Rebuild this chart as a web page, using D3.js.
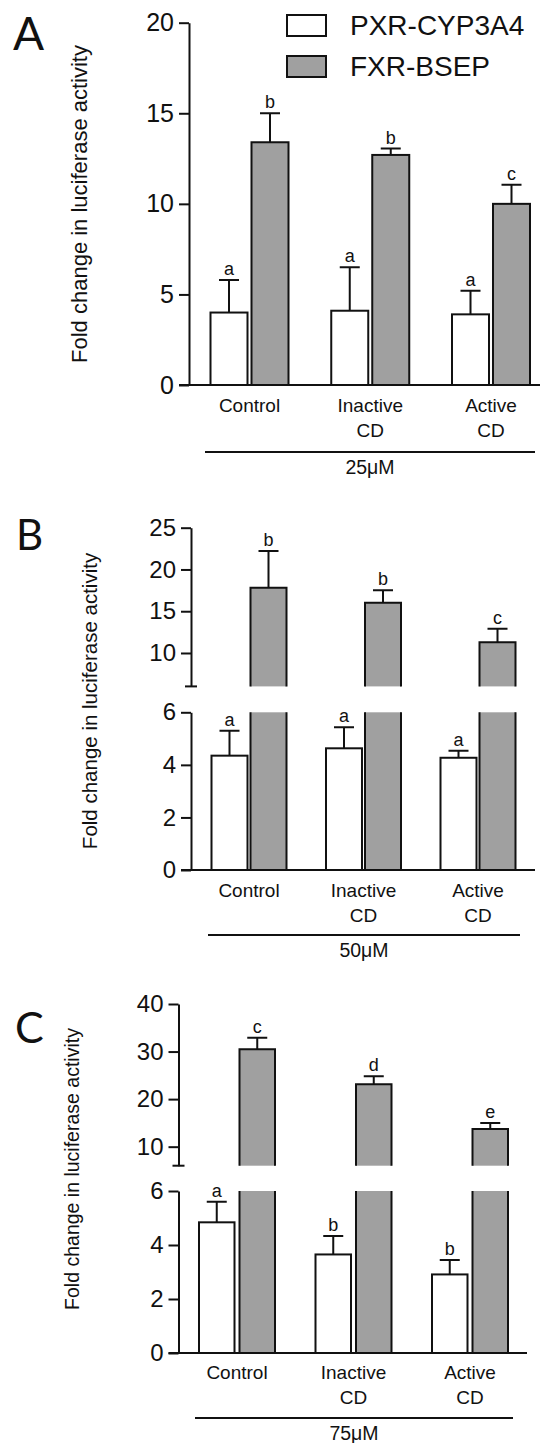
<!DOCTYPE html>
<html>
<head>
<meta charset="utf-8">
<script src="https://cdn.jsdelivr.net/npm/d3@7"></script>
<style>
  body { margin: 0; background: #fff; }
  svg { display: block; }
  text { font-family: "Liberation Sans", Arial, sans-serif; fill: #111; }
</style>
</head>
<body>
<svg id="chart" width="548" height="1443"></svg>
<script>
const groups = ['Control', 'Inactive CD', 'Active CD']
const groupLines = [['Control'], ['Inactive', 'CD'], ['Active', 'CD']]
const series = ['PXR-CYP3A4', 'FXR-BSEP']
const panelNames = ['A', 'B', 'C']
const doses = ['25μM', '50μM', '75μM']
const yTitle = 'Fold change in luciferase activity'

// A - 25 uM
const pxrA = [4.0, 4.1, 3.9]
const pxrErrA = [1.8, 2.4, 1.3]
const fxrA = [13.4, 12.7, 10.0]
const fxrErrA = [1.6, 0.35, 1.05]
const pxrLetA = ['a', 'a', 'a']
const fxrLetA = ['b', 'b', 'c']
const ticksA = [0, 5, 10, 15, 20]

// B - 50 uM, broken axis
const pxrB = [4.35, 4.63, 4.27]
const pxrErrB = [0.95, 0.8, 0.27]
const fxrB = [17.8, 16.0, 11.3]
const fxrErrB = [4.4, 1.5, 1.6]
const pxrLetB = ['a', 'a', 'a']
const fxrLetB = ['b', 'b', 'c']
const lowTicksB = [0, 2, 4, 6]
const highTicksB = [10, 15, 20, 25]

// C - 75 uM, broken axis
const pxrC = [4.84, 3.65, 2.91]
const pxrErrC = [0.76, 0.68, 0.53]
const fxrC = [30.5, 23.1, 13.7]
const fxrErrC = [2.4, 1.7, 1.3]
const pxrLetC = ['a', 'b', 'b']
const fxrLetC = ['c', 'd', 'e']
const lowTicksC = [0, 2, 4, 6]
const highTicksC = [10, 20, 30, 40]

const ink = '#111'
const capW = 20

const svg = d3.select('#chart')

const panels = [
  {
    pxr: pxrA, pxrErr: pxrErrA, fxr: fxrA, fxrErr: fxrErrA, pxrLet: pxrLetA, fxrLet: fxrLetA,
    lowDomain: [0, 20], lowTicks: ticksA, lowRange: [385, 22.7],
    axisX: 189, xEnd: 540, first: 249.5, step: 120.75, barW: 37, gap: 4, tickFont: 25,
    title: { x: 87, y: 204, size: 22 }, label: { x: 13, y: 50, size: 46 },
    catY: 412, lineY: 452, lineX: [205, 535], doseY: 474
  },
  {
    pxr: pxrB, pxrErr: pxrErrB, fxr: fxrB, fxrErr: fxrErrB, pxrLet: pxrLetB, fxrLet: fxrLetB,
    lowDomain: [0, 6], lowTicks: lowTicksB, lowRange: [870, 712.3],
    highDomain: [6, 25], highTicks: highTicksB, highRange: [686.4, 527.7],
    axisX: 191, xEnd: 535, first: 249, step: 114.5, barW: 36, gap: 3, tickFont: 24,
    title: { x: 96.5, y: 701, size: 20.5 }, label: { x: 16, y: 550, size: 42 },
    catY: 897, lineY: 935, lineX: [208, 520], doseY: 957
  },
  {
    pxr: pxrC, pxrErr: pxrErrC, fxr: fxrC, fxrErr: fxrErrC, pxrLet: pxrLetC, fxrLet: fxrLetC,
    lowDomain: [0, 6], lowTicks: lowTicksC, lowRange: [1353, 1191],
    highDomain: [6, 40], highTicks: highTicksC, highRange: [1165.7, 1004],
    axisX: 178.5, xEnd: 527, first: 237, step: 116.5, barW: 35.5, gap: 5, tickFont: 24,
    title: { x: 79, y: 1169, size: 19.5 }, label: { x: 15, y: 1043, size: 43 },
    catY: 1379, lineY: 1418, lineX: [195, 513], doseY: 1440
  }
]

const fill = d3.scaleOrdinal().domain(series).range(['#ffffff', '#a0a0a0'])

function styleAxis (g, size) {
  g.attr('font-size', null).attr('font-family', null)
  g.select('.domain').attr('stroke', ink).attr('stroke-width', 2)
  g.selectAll('.tick line').attr('stroke', ink).attr('stroke-width', 2)
  g.selectAll('.tick text').attr('fill', ink).style('font-size', size + 'px')
}

function drawPanel (p, idx) {
  const g = svg.append('g')
  const x = d3.scalePoint().domain(groups).range([p.first, p.first + 2 * p.step])
  const half = p.barW + p.gap / 2
  const xs = d3.scaleBand().domain(series).range([-half, half])
    .paddingInner(p.gap / (p.barW + p.gap))
  const yLow = d3.scaleLinear().domain(p.lowDomain).range(p.lowRange)
  const yHigh = p.highDomain ? d3.scaleLinear().domain(p.highDomain).range(p.highRange) : null
  const broken = v => yHigh && v > p.lowDomain[1]

  const rows = []
  groups.forEach((name, i) => {
    rows.push({ group: name, s: series[0], v: p.pxr[i], e: p.pxrErr[i], letter: p.pxrLet[i] })
    rows.push({ group: name, s: series[1], v: p.fxr[i], e: p.fxrErr[i], letter: p.fxrLet[i] })
  })

  rows.forEach(r => {
    const x0 = x(r.group) + xs(r.s)
    const w = xs.bandwidth()
    const x1 = x0 + w
    const bar = g.append('g')
    if (!broken(r.v)) {
      bar.append('rect')
        .attr('x', x0).attr('y', yLow(r.v))
        .attr('width', w).attr('height', yLow(0) - yLow(r.v))
        .attr('fill', fill(r.s)).attr('stroke', ink).attr('stroke-width', 2)
    } else {
      // lower stub, open on top
      const yb = yLow(0)
      const yt = yLow(p.lowDomain[1])
      bar.append('rect').attr('x', x0).attr('y', yt).attr('width', w).attr('height', yb - yt)
        .attr('fill', fill(r.s))
      bar.append('path').attr('d', `M${x0},${yt}V${yb}H${x1}V${yt}`)
        .attr('fill', 'none').attr('stroke', ink).attr('stroke-width', 2)
      // upper piece, open at the bottom
      const hb = yHigh(p.highDomain[0])
      const ht = yHigh(r.v)
      bar.append('rect').attr('x', x0).attr('y', ht).attr('width', w).attr('height', hb - ht)
        .attr('fill', fill(r.s))
      bar.append('path').attr('d', `M${x0},${hb}V${ht}H${x1}V${hb}`)
        .attr('fill', 'none').attr('stroke', ink).attr('stroke-width', 2)
    }
    const y = broken(r.v) ? yHigh : yLow
    const cx = (x0 + x1) / 2
    const top = y(r.v + r.e)
    bar.append('path')
      .attr('d', `M${cx},${y(r.v)}V${top}M${cx - capW / 2},${top}H${cx + capW / 2}`)
      .attr('fill', 'none').attr('stroke', ink).attr('stroke-width', 2)
    bar.append('text')
      .attr('x', cx).attr('y', top - 5)
      .attr('text-anchor', 'middle')
      .style('font-size', '18px')
      .text(r.letter)
  })

  // y axes
  const axLow = d3.axisLeft(yLow).tickValues(p.lowTicks).tickFormat(d3.format('d'))
    .tickSize(10).tickSizeOuter(0).tickPadding(5)
  g.append('g').attr('transform', `translate(${p.axisX},0)`).call(axLow).call(styleAxis, p.tickFont)
  if (yHigh) {
    const axHigh = d3.axisLeft(yHigh).tickValues(p.highTicks).tickFormat(d3.format('d'))
      .tickSize(10).tickSizeOuter(0).tickPadding(5)
    g.append('g').attr('transform', `translate(${p.axisX},0)`).call(axHigh).call(styleAxis, p.tickFont)
    g.append('line')
      .attr('x1', p.axisX - 6).attr('x2', p.axisX + 6)
      .attr('y1', yHigh(p.highDomain[0])).attr('y2', yHigh(p.highDomain[0]))
      .attr('stroke', ink).attr('stroke-width', 2)
  }

  // x baseline
  g.append('line')
    .attr('x1', p.axisX - 10).attr('x2', p.xEnd)
    .attr('y1', yLow(0)).attr('y2', yLow(0))
    .attr('stroke', ink).attr('stroke-width', 2)

  // category labels
  groups.forEach((name, i) => {
    const t = g.append('text').attr('text-anchor', 'middle').style('font-size', '19px')
    groupLines[i].forEach((line, j) => {
      t.append('tspan').attr('x', x(name)).attr('y', p.catY + j * 25).text(line)
    })
  })

  // dose bracket
  g.append('line')
    .attr('x1', p.lineX[0]).attr('x2', p.lineX[1])
    .attr('y1', p.lineY).attr('y2', p.lineY)
    .attr('stroke', ink).attr('stroke-width', 2)
  g.append('text')
    .attr('x', (p.lineX[0] + p.lineX[1]) / 2).attr('y', p.doseY)
    .attr('text-anchor', 'middle').style('font-size', '19.5px')
    .text(doses[idx])

  // y title
  g.append('text')
    .attr('transform', `translate(${p.title.x},${p.title.y}) rotate(-90)`)
    .attr('text-anchor', 'middle')
    .style('font-size', p.title.size + 'px')
    .text(yTitle)

  // panel letter
  g.append('text')
    .attr('x', p.label.x).attr('y', p.label.y)
    .style('font-family', 'Lato, "Open Sans", sans-serif')
    .style('font-size', p.label.size + 'px')
    .text(panelNames[idx])
}

panels.forEach(drawPanel)

// legend (panel A)
const legend = svg.append('g').attr('transform', 'translate(287,15)')
series.forEach((s, i) => {
  legend.append('rect')
    .attr('x', 0).attr('y', i * 41)
    .attr('width', 39).attr('height', 21)
    .attr('fill', fill(s)).attr('stroke', ink).attr('stroke-width', 2)
  legend.append('text')
    .attr('x', 63).attr('y', i * 41 + 20)
    .style('font-size', '28px')
    .text(s)
})
</script>
</body>
</html>
